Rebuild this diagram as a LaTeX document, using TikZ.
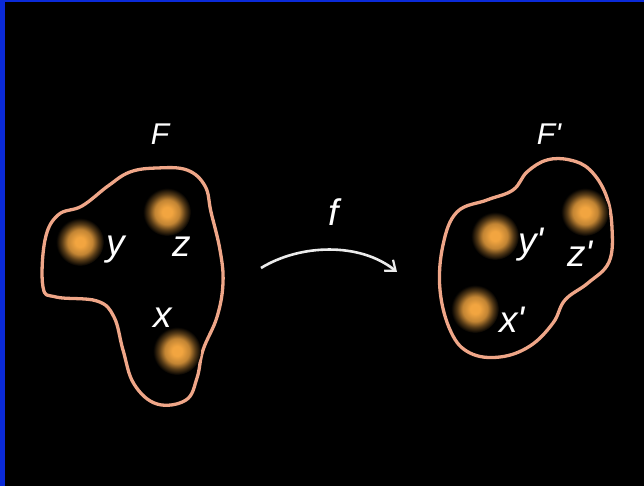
\documentclass[tikz,border=0pt]{standalone}
\usepackage{fontspec}
\setmainfont{Liberation Sans}[Ligatures=TeXOff]
\usetikzlibrary{arrows.meta}
\definecolor{glowc}{HTML}{F2A540}
\definecolor{rim}{HTML}{EFA688}
\definecolor{framebl}{HTML}{0A2AD8}
\pgfdeclareradialshading{glow}{\pgfpoint{0bp}{0bp}}{%
  color(0bp)=(glowc);
  color(5bp)=(glowc);
  color(13bp)=(glowc!80!black);
  color(19bp)=(glowc!35!black);
  color(25bp)=(black);
  color(50bp)=(black)}
\tikzset{
  blob/.style={draw=rim, line width=3.3pt, line join=round},
  dot/.style={shading=glow},
  biglabel/.style={text=white, font=\itshape\fontsize{30}{30}\selectfont, inner sep=0pt},
  smalllabel/.style={text=white, font=\itshape\fontsize{37}{37}\selectfont, inner sep=0pt},
  maparrow/.style={draw=white!92!black, line width=2.6pt, -{Straight Barb[length=9pt,width=14pt,line width=2.2pt]}}
}
\begin{document}
\begin{tikzpicture}[x=1pt,y=-1pt]
\fill[black] (0,0) rectangle (644,486);
\useasboundingbox (0,0) rectangle (644,486);
\fill[framebl] (0,0) rectangle (5,486);
\fill[framebl] (0,0) rectangle (644,2.5);
% left set F
\draw[blob] plot[smooth cycle, tension=0.65] coordinates {
  (157,168) (187,170) (205,186) (211,212) (220,250) (223,283) (217,317)
  (203,350) (197,378) (186,400) (157,404) (134,384) (123,350) (114,317)
  (97,301) (56,297) (43,287) (45,240) (58,215) (82,206) (108,186) (130,172)};
\shade[dot] (80,242) circle (24);
\shade[dot] (167,212) circle (24);
\shade[dot] (177,351) circle (24);
\node[biglabel] (F) at (160,134) {F};
\node[smalllabel] (y) at (116,250) {y};
\node[smalllabel] (z) at (182,247) {z};
\node[smalllabel] (x) at (163,318) {x};
% right set F'
\draw[blob] plot[smooth cycle, tension=0.65] coordinates {
  (547,160) (570,160) (590,170) (606,195) (612,228) (609,262) (588,283)
  (565,300) (553,323) (530,346) (500,357) (470,353) (451,332) (440,290)
  (443,245) (457,212) (487,200) (513,190) (527,172)};
\shade[dot] (495,236) circle (24);
\shade[dot] (585,212) circle (24);
\shade[dot] (475,309) circle (24);
\node[biglabel] (Fp) at (549,134) {F'};
\node[smalllabel] (yp) at (531,245) {y'};
\node[smalllabel] (zp) at (580,254) {z'};
\node[smalllabel] (xp) at (512,320) {x'};
% map f
\coordinate (a0) at (261,268);
\coordinate (a1) at (397,272);
\draw[maparrow] (a0) .. controls (300,244) and (360,242) .. (a1);
\node[smalllabel] (f) at (334,212) {f};
\end{tikzpicture}
\end{document}
